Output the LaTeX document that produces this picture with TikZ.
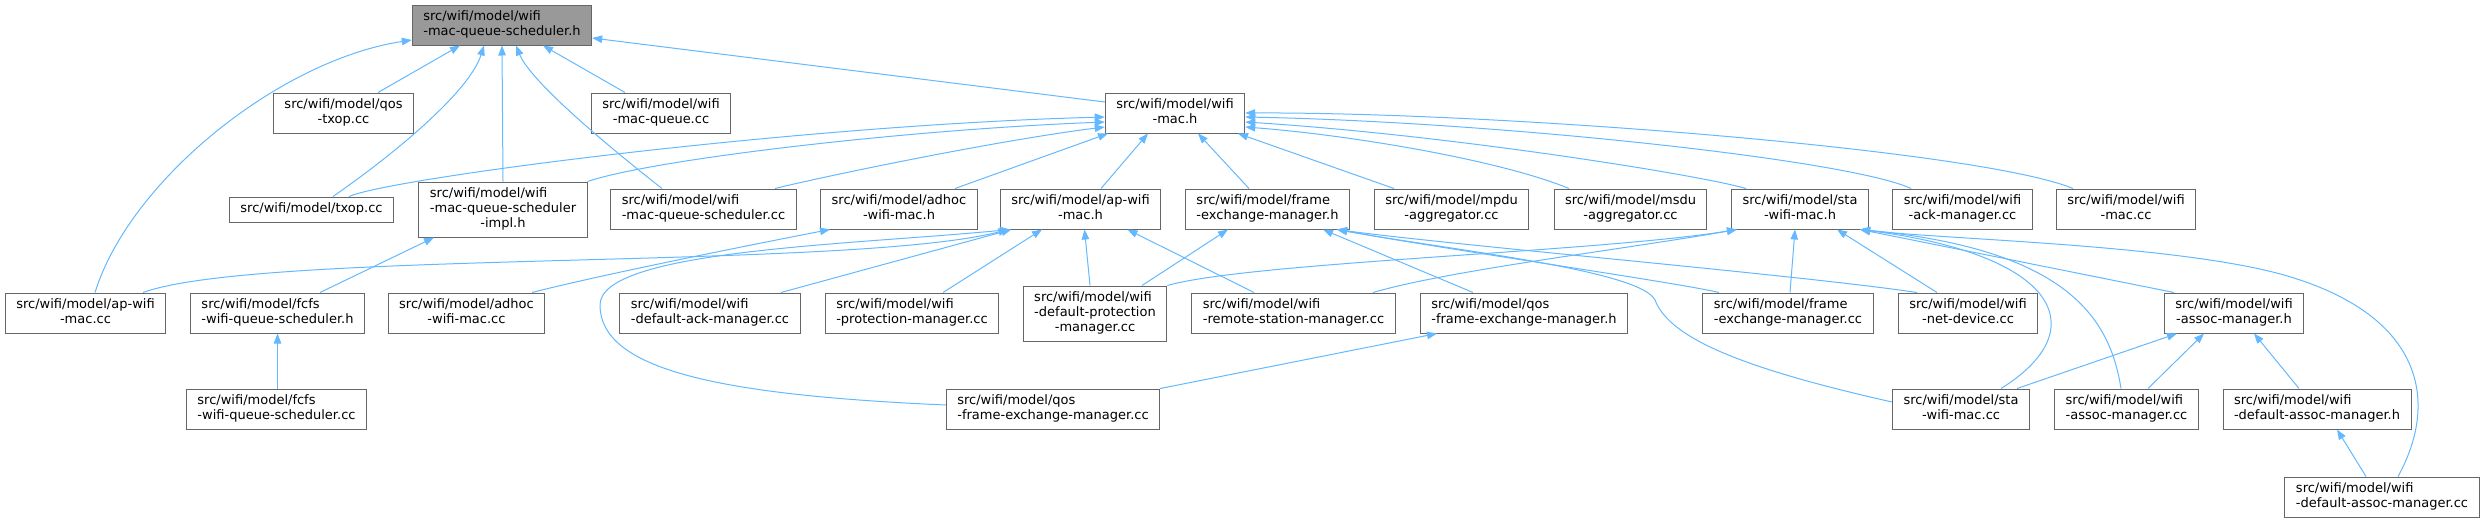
\documentclass[tikz,border=0pt]{standalone}
\usepackage{fontspec}
\setmainfont{DejaVu Sans}
\usepackage{tikz}
\usetikzlibrary{arrows.meta}
\definecolor{boxline}{HTML}{666666}
\definecolor{rootgray}{HTML}{999999}
\definecolor{incblue}{HTML}{63B8FF}
\tikzstyle{file}=[rectangle,draw=boxline,fill=white,line width=1pt,inner xsep=11pt,inner ysep=5pt,font=\fontsize{13}{15}\selectfont]
\tikzstyle{rootfile}=[file,fill=rootgray]
\tikzstyle{dep}=[draw=incblue,line width=1pt,-{Triangle[length=10pt,width=7.5pt]}]
\newcommand{\fname}[2]{\begin{tabular}{@{}c@{}}\multicolumn{1}{@{}l@{}}{#1}\\#2\end{tabular}}
\newcommand{\fline}[1]{\begin{tabular}{@{}c@{}}#1\end{tabular}}
\begin{document}
\begin{tikzpicture}[x=1pt,y=-1pt]
    \useasboundingbox (0,0) rectangle (2485,523);
    \node[rootfile] (root) at (502,25) {\fname{src/wifi/model/wifi}{-mac-queue-scheduler.h}};
    \node[file] (qostxop) at (343.5,113) {\fname{src/wifi/model/qos}{-txop.cc}};
    \node[file] (macqueue) at (661,113) {\fname{src/wifi/model/wifi}{-mac-queue.cc}};
    \node[file] (wifimach) at (1175,113) {\fname{src/wifi/model/wifi}{-mac.h}};
    \node[file] (txop) at (311.5,209.5) {\fline{src/wifi/model/txop.cc}};
    \node[file] (impl) at (503,209.5) {\fname{src/wifi/model/wifi}{-mac-queue-scheduler\\-impl.h}};
    \node[file] (schedcc) at (703.5,209) {\fname{src/wifi/model/wifi}{-mac-queue-scheduler.cc}};
    \node[file] (adhoch) at (899,209) {\fname{src/wifi/model/adhoc}{-wifi-mac.h}};
    \node[file] (aph) at (1080.5,209) {\fname{src/wifi/model/ap-wifi}{-mac.h}};
    \node[file] (femh) at (1267.5,209) {\fname{src/wifi/model/frame}{-exchange-manager.h}};
    \node[file] (mpdu) at (1451.5,209) {\fname{src/wifi/model/mpdu}{-aggregator.cc}};
    \node[file] (msdu) at (1630.5,209) {\fname{src/wifi/model/msdu}{-aggregator.cc}};
    \node[file] (stah) at (1800,209) {\fname{src/wifi/model/sta}{-wifi-mac.h}};
    \node[file] (ackcc) at (1962.5,209) {\fname{src/wifi/model/wifi}{-ack-manager.cc}};
    \node[file] (wifimaccc) at (2126,209) {\fname{src/wifi/model/wifi}{-mac.cc}};
    \node[file] (apcc) at (85.5,313) {\fname{src/wifi/model/ap-wifi}{-mac.cc}};
    \node[file] (fcfsh) at (277.5,313) {\fname{src/wifi/model/fcfs}{-wifi-queue-scheduler.h}};
    \node[file] (adhoccc) at (466.5,313) {\fname{src/wifi/model/adhoc}{-wifi-mac.cc}};
    \node[file] (defack) at (710,313) {\fname{src/wifi/model/wifi}{-default-ack-manager.cc}};
    \node[file] (protcc) at (912,313) {\fname{src/wifi/model/wifi}{-protection-manager.cc}};
    \node[file] (defprot) at (1095,313.5) {\fname{src/wifi/model/wifi}{-default-protection\\-manager.cc}};
    \node[file] (rsm) at (1293.5,313) {\fname{src/wifi/model/wifi}{-remote-station-manager.cc}};
    \node[file] (qosfemh) at (1524,313) {\fname{src/wifi/model/qos}{-frame-exchange-manager.h}};
    \node[file] (femcc) at (1788,313) {\fname{src/wifi/model/frame}{-exchange-manager.cc}};
    \node[file] (netdev) at (1968,313) {\fname{src/wifi/model/wifi}{-net-device.cc}};
    \node[file] (assoch) at (2234,313) {\fname{src/wifi/model/wifi}{-assoc-manager.h}};
    \node[file] (fcfscc) at (276.5,409) {\fname{src/wifi/model/fcfs}{-wifi-queue-scheduler.cc}};
    \node[file] (qosfemcc) at (1053,409) {\fname{src/wifi/model/qos}{-frame-exchange-manager.cc}};
    \node[file] (stacc) at (1961,409) {\fname{src/wifi/model/sta}{-wifi-mac.cc}};
    \node[file] (assoccc) at (2126.5,409) {\fname{src/wifi/model/wifi}{-assoc-manager.cc}};
    \node[file] (defassoch) at (2317,409) {\fname{src/wifi/model/wifi}{-default-assoc-manager.h}};
    \node[file] (defassoccc) at (2382,497) {\fname{src/wifi/model/wifi}{-default-assoc-manager.cc}};

    \draw[dep] ([xshift=9.5pt]apcc.north) .. controls (130,180) and (280,60) .. ([yshift=-15pt]root.west);
    \draw[dep] ([xshift=34.5pt]qostxop.north) -- ([xshift=-42pt]root.south);
    \draw[dep] ([xshift=21.5pt]txop.north) .. controls (400,150) and (470,90) .. ([xshift=-18pt]root.south);
    \draw[dep] (impl.north) -- (root.south);
    \draw[dep] ([xshift=-41.5pt]schedcc.north) .. controls (600,140) and (530,80) .. ([xshift=14pt]root.south);
    \draw[dep] ([xshift=-36pt]macqueue.north) -- ([xshift=41pt]root.south);
    \draw[dep] ([yshift=11pt]wifimach.west) -- ([yshift=-13pt]root.east);

    \draw[dep] ([xshift=37.5pt]txop.north) .. controls (390,178) and (800,125) .. ([yshift=-4pt]wifimach.west);
    \draw[dep] (impl.north east) .. controls (650,160) and (900,130) .. ([yshift=-9pt]wifimach.west);
    \draw[dep] ([xshift=71.5pt]schedcc.north) .. controls (830,175) and (1000,140) .. ([yshift=-14pt]wifimach.west);
    \draw[dep] ([xshift=56pt]adhoch.north) -- ([xshift=-67pt]wifimach.south);
    \draw[dep] ([xshift=20.5pt]aph.north) -- ([xshift=-27pt]wifimach.south);
    \draw[dep] ([xshift=-18.5pt]femh.north) -- ([xshift=23pt]wifimach.south);
    \draw[dep] ([xshift=-57.5pt]mpdu.north) -- ([xshift=63pt]wifimach.south);
    \draw[dep] ([xshift=-61.5pt]msdu.north) .. controls (1500,160) and (1350,135) .. ([yshift=-14pt]wifimach.east);
    \draw[dep] ([xshift=-54pt]stah.north) .. controls (1700,175) and (1450,135) .. ([yshift=-9pt]wifimach.east);
    \draw[dep] ([xshift=-51.5pt]ackcc.north) .. controls (1850,160) and (1500,122) .. ([yshift=-4pt]wifimach.east);
    \draw[dep] ([xshift=-53pt]wifimaccc.north) .. controls (1980,150) and (1500,112) .. (wifimach.east);

    \draw[dep] ([xshift=42.5pt]fcfsh.north) -- ([xshift=-69pt]impl.south);
    \draw[dep] ([xshift=1pt]fcfscc.north) -- (fcfsh.south);
    \draw[dep] ([xshift=65.5pt]adhoccc.north) .. controls (600,275) and (750,245) .. ([xshift=-69pt]adhoch.south);

    \draw[dep] ([xshift=57.5pt]apcc.north) .. controls (260,250) and (850,270) .. ([xshift=-72pt]aph.south);
    \draw[dep] ([xshift=71pt]defack.north) -- ([xshift=-69pt]aph.south);
    \draw[dep] ([yshift=4pt]qosfemcc.west) .. controls (720,395) and (600,370) .. (600,305)
        .. controls (600,250) and (850,245) .. ([xshift=-70.5pt]aph.south);
    \draw[dep] ([xshift=31pt]protcc.north) -- ([xshift=-38.5pt]aph.south);
    \draw[dep] ([xshift=-5pt]defprot.north) -- ([xshift=4pt]aph.south);
    \draw[dep] ([xshift=-39.5pt]rsm.north) -- ([xshift=47pt]aph.south);

    \draw[dep] ([xshift=47pt]defprot.north) -- ([xshift=-39.5pt]femh.south);
    \draw[dep] ([xshift=-51pt]qosfemh.north) -- ([xshift=55.5pt]femh.south);
    \draw[dep] ([xshift=-69pt]femcc.north) .. controls (1680,283) and (1450,250) .. ([xshift=69.5pt]femh.south);
    \draw[dep] ([xshift=-51pt]netdev.north) .. controls (1800,275) and (1450,245) .. ([xshift=69.5pt]femh.south);
    \draw[dep] ([yshift=7pt]stacc.west) .. controls (1750,370) and (1670,340) .. (1655,300)
        .. controls (1640,270) and (1450,250) .. ([xshift=69.5pt]femh.south);

    \draw[dep] (defprot.north east) .. controls (1250,262) and (1600,252) .. ([xshift=-63pt]stah.south);
    \draw[dep] ([xshift=79.5pt]rsm.north) .. controls (1450,270) and (1620,250) .. ([xshift=-63pt]stah.south);
    \draw[dep] ([xshift=2pt]femcc.north) -- ([xshift=-5pt]stah.south);
    \draw[dep] ([xshift=-31pt]netdev.north) -- ([xshift=37pt]stah.south);
    \draw[dep] ([xshift=40pt]stacc.north) .. controls (2095,330) and (2060,255) .. ([xshift=60pt]stah.south);
    \draw[dep] ([xshift=-5.5pt]assoccc.north) .. controls (2110,320) and (2070,250) .. ([xshift=60pt]stah.south);
    \draw[dep] ([xshift=-60pt]assoch.north) -- ([xshift=60pt]stah.south);
    \draw[dep] ([xshift=16pt]defassoccc.north) .. controls (2440,400) and (2420,320) .. (2300,280)
        .. controls (2200,245) and (1950,240) .. ([xshift=60pt]stah.south);

    \draw[dep] ([xshift=56pt]stacc.north) -- ([xshift=-57pt]assoch.south);
    \draw[dep] ([xshift=21.5pt]assoccc.north) -- ([xshift=-30pt]assoch.south);
    \draw[dep] ([xshift=-18pt]defassoch.north) -- ([xshift=20pt]assoch.south);
    \draw[dep] ([xshift=-16pt]defassoccc.north) -- ([xshift=20pt]defassoch.south);
    \draw[dep] (qosfemcc.north east) -- ([xshift=-87pt]qosfemh.south);
\end{tikzpicture}
\end{document}
